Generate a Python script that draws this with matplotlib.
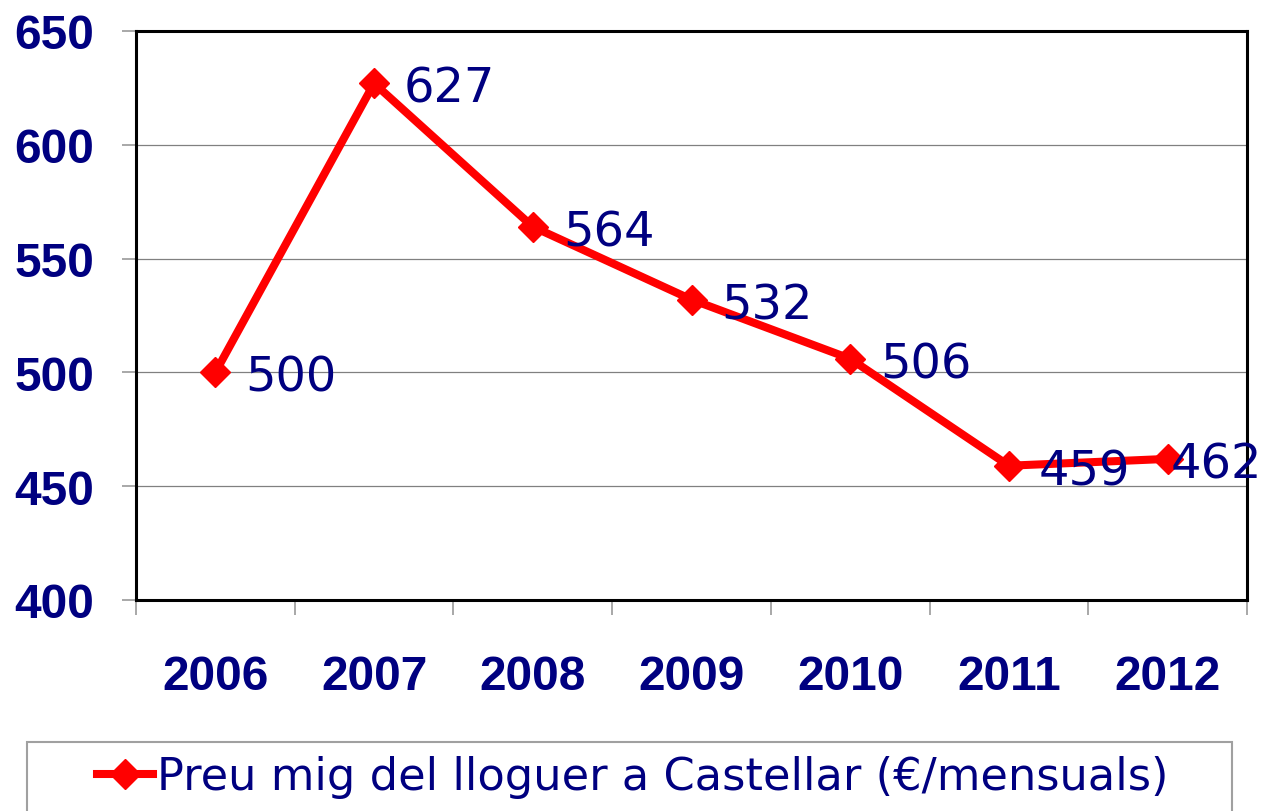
import matplotlib
matplotlib.use('Agg')
import matplotlib.pyplot as plt
from matplotlib.patches import Rectangle

years = ['2006', '2007', '2008', '2009', '2010', '2011', '2012']
rent = [500, 627, 564, 532, 506, 459, 462]
series_label = 'Preu mig del lloguer a Castellar (€/mensuals)'

navy = '#000080'

fig = plt.figure(figsize=(12.61, 8.12), dpi=100)
ax = fig.add_axes([136/1261, 211/812, 1111/1261, 569/812])

x = list(range(len(years)))
ax.plot(x, rent, color='#ff0000', lw=5.8, marker='D', ms=15,
        label=series_label, solid_joinstyle='round', zorder=3)

for i, v in enumerate(rent):
    dx = 3 if i == len(rent) - 1 else 30
    ax.annotate(str(v), (i, v), xytext=(dx, -5), textcoords='offset pixels',
                ha='left', va='center', fontsize=34.5, color=navy,
                family='DejaVu Sans', zorder=4)

ax.set_xlim(-0.5, 6.5)
ax.set_ylim(400, 650)
ax.set_yticks(range(400, 651, 50))
ax.grid(axis='y', color='#808080', lw=0.9, zorder=0)
ax.set_axisbelow(True)

ax.set_xticks(x)
ax.set_xticklabels(years)
ax.set_xticks([i - 0.5 for i in range(len(years) + 1)], minor=True)
ax.tick_params(axis='x', which='major', length=0, pad=39)
ax.tick_params(axis='x', which='minor', length=11, width=1.2, color='#999999', direction='out')
ax.tick_params(axis='y', length=10, width=1.2, color='#999999', direction='out', pad=20)

for lab in ax.get_xticklabels() + ax.get_yticklabels():
    lab.set_fontfamily('Liberation Sans')
    lab.set_fontweight('bold')
    lab.set_fontsize(34.5)
    lab.set_color(navy)

for s in ax.spines.values():
    s.set_color('black')
    s.set_linewidth(2.2)

fig.patches.append(Rectangle((27/1261, -0.05), 1205/1261, (812-743)/812 + 0.05,
                             transform=fig.transFigure, fill=False,
                             edgecolor='#a0a0a0', lw=1.5))

fig.legend(loc='center left', bbox_to_anchor=(97/1261, 34/812), frameon=False,
           borderpad=0, borderaxespad=0, handlelength=1.25, handletextpad=0.1,
           prop={'family': 'DejaVu Sans', 'size': 32.2}, labelcolor=navy)

fig.savefig('out.png', dpi=100)
